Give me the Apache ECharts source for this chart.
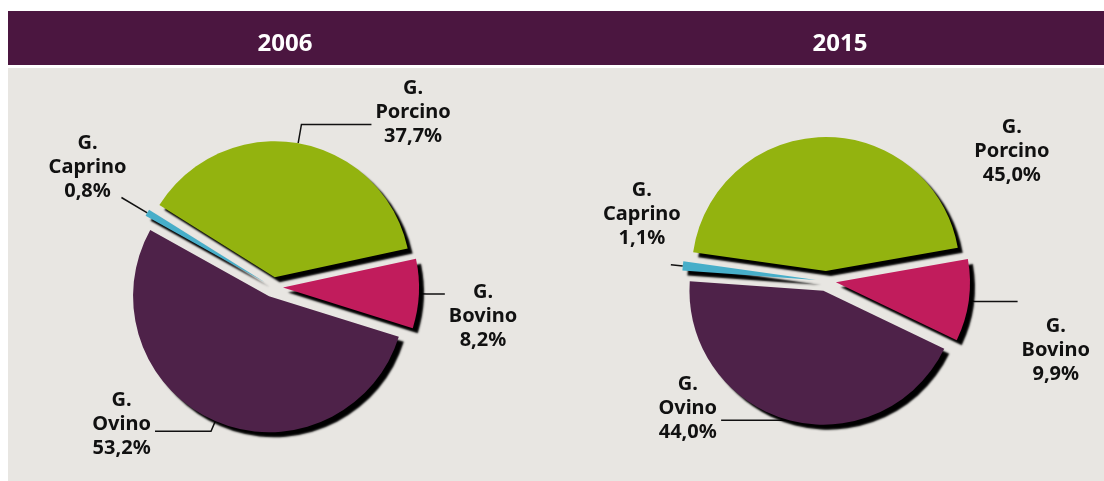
<!DOCTYPE html>
<html>
<head>
<meta charset="utf-8">
<script src="https://cdn.jsdelivr.net/npm/echarts@6/dist/echarts.min.js"></script>
<style>
html, body { margin: 0; padding: 0; background: #fff; }
#chart { width: 1104px; height: 481px; }
</style>
</head>
<body>
<div id="chart"></div>
<script>
const years = ['2006', '2015'];
const species = ['Porcino', 'Bovino', 'Ovino', 'Caprino'];
const shares2006 = [37.7, 8.2, 53.2, 0.8];
const shares2015 = [45.0, 9.9, 44.0, 1.1];

const colors = ['#93b30f', '#c11c5c', '#4e2249', '#47aec9'];
// pie layout: [cx, cy, radius, startAngle]
const pies = [
    [273, 287, 136, 148],
    [826, 281, 134, 172]
];
// label tweaks per slice: [length, length2, padTop, padBottom, distance, showLine]
const labelTweaks = [
    [[19, 70, 0, 24, 4, true], [8, 18, 45, 0, 4, true], [11, 56, 0, 14, 4, true], [30, 0, 0, 61, -5, true]],
    [[0, -230, 28, 0, 4, false], [6, 43, 98, 0, 4, true], [0, 68, 0, 24, 4, true], [12, 0, 0, 101, -10, true]]
];

const font = '"Noto Sans", "DejaVu Sans", sans-serif';

function fmt (v) {
    return v.toFixed(1).replace('.', ',') + '%';
}

function buildSeries (idx, values) {
    const p = pies[idx];
    return {
        type: 'pie',
        center: [p[0], p[1]],
        radius: p[2],
        startAngle: p[3],
        clockwise: true,
        selectedMode: 'multiple',
        selectedOffset: 10,
        avoidLabelOverlap: false,
        animation: false,
        emphasis: { disabled: true },
        itemStyle: {
            shadowColor: '#000',
            shadowBlur: 2,
            shadowOffsetX: 5,
            shadowOffsetY: 5
        },
        label: {
            show: true,
            position: 'outside',
            formatter: (d) => '{t|G.}\n{t|' + d.name + '}\n{t|' + fmt(d.value) + '}',
            rich: {
                t: {
                    fontFamily: font,
                    fontSize: 20,
                    fontWeight: 'bold',
                    color: '#111',
                    lineHeight: 24,
                    align: 'center'
                }
            }
        },
        labelLine: {
            show: true,
            lineStyle: { color: '#111', width: 1.5 }
        },
        data: species.map((name, i) => {
            const t = labelTweaks[idx][i];
            return {
                name: name,
                value: values[i],
                selected: true,
                itemStyle: { color: colors[i] },
                label: { padding: [t[2], 0, t[3], 0], distanceToLabelLine: t[4] },
                labelLine: { show: t[5], length: t[0], length2: t[1] }
            };
        })
    };
}

const chart = echarts.init(document.getElementById('chart'));
chart.setOption({
    animation: false,
    textStyle: { fontFamily: font },
    graphic: [
        {
            type: 'rect',
            z: -10,
            shape: { x: 8, y: 68, width: 1096, height: 413 },
            style: { fill: '#e8e6e2' }
        },
        {
            type: 'rect',
            z: -10,
            shape: { x: 8, y: 11, width: 1096, height: 54 },
            style: { fill: '#4b1640' }
        }
    ],
    title: [
        {
            text: years[0],
            left: 285,
            top: 32,
            textAlign: 'center',
            padding: 0,
            textStyle: { color: '#fff', fontSize: 24, fontWeight: 'bold', fontFamily: font }
        },
        {
            text: years[1],
            left: 840,
            top: 32,
            textAlign: 'center',
            padding: 0,
            textStyle: { color: '#fff', fontSize: 24, fontWeight: 'bold', fontFamily: font }
        }
    ],
    series: [
        buildSeries(0, shares2006),
        buildSeries(1, shares2015)
    ]
});
</script>
</body>
</html>
